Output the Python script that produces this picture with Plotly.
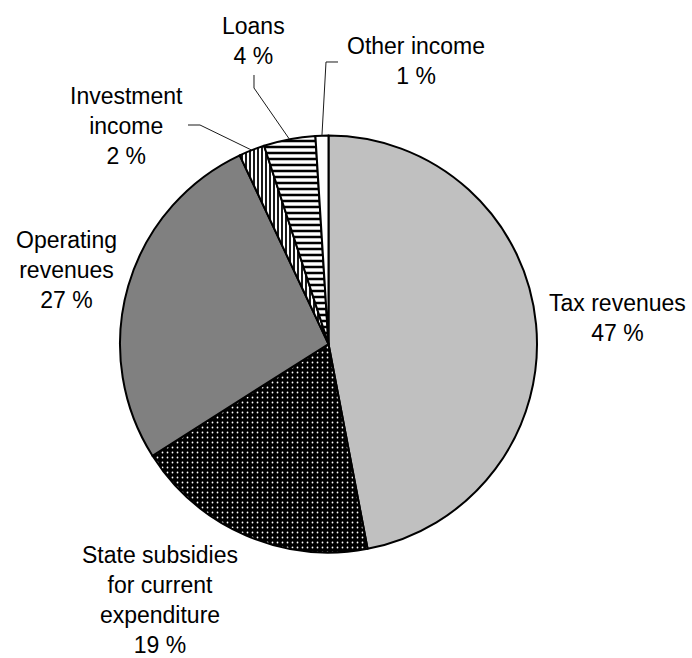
import math
import plotly.graph_objects as go

# Revenue structure (percent of total)
categories = ["Tax revenues", "State subsidies for current expenditure",
              "Operating revenues", "Investment income", "Loans", "Other income"]
shares = [47, 19, 27, 2, 4, 1]
label_texts = ["Tax revenues<br>47 %",
               "State subsidies<br>for current<br>expenditure<br>19 %",
               "Operating<br>revenues<br>27 %",
               "Investment<br>income<br>2 %",
               "Loans<br>4 %",
               "Other income<br>1 %"]

W, H = 692, 658
CX, CY, R = 328.5, 344.0, 208.5  # pie centre and radius in pixels

fills = ["#c0c0c0", "#000000", "#808080", "#ffffff", "#ffffff", "#ffffff"]
pat_shape = ["", ".", "", "|", "-", ""]
pat_fg = ["#c0c0c0", "#ffffff", "#808080", "#000000", "#000000", "#ffffff"]
pat_size = [6, 5, 6, 4, 6, 6]
pat_solid = [0.3, 0.1, 0.3, 0.45, 0.42, 0.3]

def px_x(x):
    return x / W

def px_y(y):
    return 1 - y / H

fig = go.Figure(go.Pie(
    labels=categories,
    values=shares,
    sort=False,
    direction="clockwise",
    rotation=0,
    textinfo="none",
    hoverinfo="label+percent",
    showlegend=False,
    marker=dict(
        colors=fills,
        line=dict(color="#000000", width=2),
        pattern=dict(shape=pat_shape, fgcolor=pat_fg, bgcolor=fills,
                     size=pat_size, solidity=pat_solid, fillmode="replace"),
    ),
    domain=dict(x=[px_x(CX - R), px_x(CX + R)],
                y=[px_y(CY + R), px_y(CY - R)]),
))

# label block centres (pixels)
label_pos = [(617.5, 318), (160, 600), (66, 270), (126, 126), (253, 41), (416, 61)]

annotations = []
for txt, (x, y) in zip(label_texts, label_pos):
    annotations.append(dict(
        text=txt, x=px_x(x), y=px_y(y), xref="paper", yref="paper",
        xanchor="center", yanchor="middle", showarrow=False, align="center",
        font=dict(family="Liberation Sans, Arial, sans-serif", size=23, color="#000000"),
    ))

# leader lines from the small slices to their labels
total = sum(shares)
cum = []
acc = 0
for v in shares:
    cum.append(acc)
    acc += v

def edge_point(i):
    mid = (cum[i] + shares[i] / 2) / total * 2 * math.pi
    return CX + R * math.sin(mid), CY - R * math.cos(mid)

leaders = {
    3: [(188, 125), (200, 125)],   # Investment income
    4: [(254, 75), (254, 88)],     # Loans
    5: [(338, 62), (326, 62)],     # Other income
}
shapes = []
for i, pts in leaders.items():
    ex, ey = edge_point(i)
    path_pts = pts + [(ex, ey)]
    d = "M " + " L ".join(f"{px_x(x):.5f},{px_y(y):.5f}" for x, y in path_pts)
    shapes.append(dict(type="path", path=d, xref="paper", yref="paper",
                       line=dict(color="#1a1a1a", width=1)))

fig.update_layout(
    width=W, height=H, autosize=False,
    margin=dict(l=0, r=0, t=0, b=0),
    paper_bgcolor="#ffffff", plot_bgcolor="#ffffff",
    annotations=annotations, shapes=shapes,
)

fig.write_html("out.html")
